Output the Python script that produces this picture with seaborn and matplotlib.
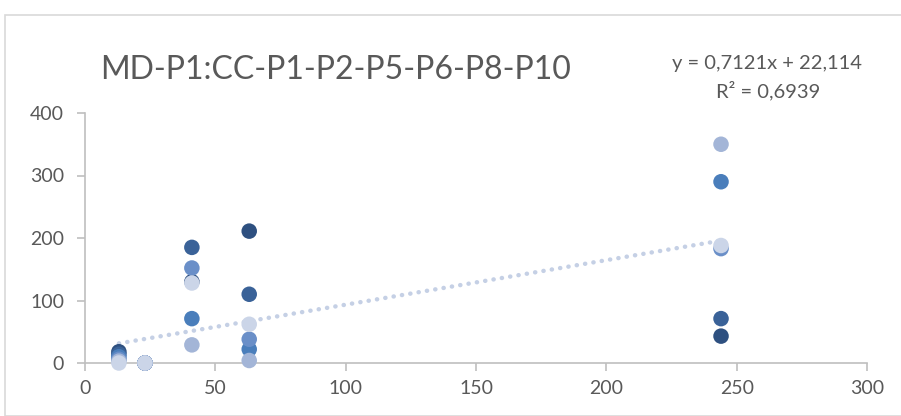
import matplotlib
matplotlib.use("Agg")
import matplotlib.pyplot as plt
import seaborn as sns
import pandas as pd
import numpy as np
from matplotlib.patches import Rectangle

x_vals = [13, 23, 41, 63, 244]
s_p1 = [18, 0, 130, 211, 43]
s_p2 = [14, 0, 185, 110, 71]
s_p5 = [10, 0, 71, 22, 290]
s_p6 = [6, 0, 152, 38, 183]
s_p8 = [3, 0, 29, 4, 350]
s_p10 = [0, 0, 128, 62, 188]
series_names = ["P1", "P2", "P5", "P6", "P8", "P10"]
series_vals = [s_p1, s_p2, s_p5, s_p6, s_p8, s_p10]
colors = ["#2E5080", "#3A6298", "#4A7EBB", "#6A8FC8", "#A3B5D7", "#CBD5E8"]
slope, intercept = 0.7121, 22.114
eq_text = "y = 0,7121x + 22,114"
r2_text = "R² = 0,6939"
title = "MD-P1:CC-P1-P2-P5-P6-P8-P10"

rows = []
for name, vals in zip(series_names, series_vals):
    for xv, yv in zip(x_vals, vals):
        rows.append({"x": xv, "y": yv, "serie": name})
df = pd.DataFrame(rows)

sns.set_theme(style="white")
plt.rcParams["font.family"] = ["Lato", "DejaVu Sans"]

fig = plt.figure(figsize=(9.01, 4.16), dpi=100)
fig.patch.set_facecolor("white")
fig.patches.append(Rectangle((5 / 901, 0), 1, 1 - 15 / 416, transform=fig.transFigure,
                             fill=False, edgecolor="#D9D9D9", linewidth=1.2))
ax = fig.add_axes([85 / 901, 53 / 416, (867 - 85) / 901, 250 / 416])

xs = np.array([min(x_vals), max(x_vals)])
ax.plot(xs, slope * xs + intercept, linestyle=(0, (0.05, 1.85)), dash_capstyle="round",
        solid_capstyle="round", color="#C5D0E5", linewidth=3.2, zorder=2)

sns.scatterplot(data=df, x="x", y="y", hue="serie", palette=colors, s=125,
                edgecolor="none", linewidth=0, legend=False, ax=ax, zorder=3)

ax.set_xlim(0, 300)
ax.set_ylim(0, 400)
ax.set_xticks(range(0, 301, 50))
ax.set_yticks(range(0, 401, 100))
ax.set_xlabel("")
ax.set_ylabel("")
for side in ["top", "right"]:
    ax.spines[side].set_visible(False)
for side in ["left", "bottom"]:
    ax.spines[side].set_color("#BFBFBF")
    ax.spines[side].set_linewidth(1.2)
ax.tick_params(axis="both", which="both", direction="out", length=6, width=1.2,
               color="#BFBFBF", labelcolor="#595959", labelsize=14, bottom=True, left=True)
ax.tick_params(axis="y", pad=9)
ax.tick_params(axis="x", pad=6)
for sp in ax.spines.values():
    sp.set_clip_on(False)
for c in ax.collections:
    c.set_clip_on(False)

fig.text(336 / 901, 1 - 70 / 416, title, ha="center", va="center",
         fontsize=23, color="#595959")
fig.text(767 / 901, 1 - 63 / 416, eq_text, ha="center", va="center",
         fontsize=14.5, color="#595959")
fig.text(768 / 901, 1 - 91 / 416, r2_text, ha="center", va="center",
         fontsize=14.5, color="#595959")

fig.savefig("out.png", dpi=100)
